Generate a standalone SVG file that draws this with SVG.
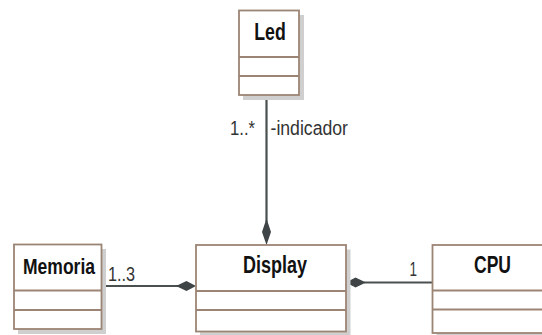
<svg xmlns="http://www.w3.org/2000/svg" width="542" height="335" viewBox="0 0 542 335">
<defs>
<style>
.shadow{fill:#cfcfcf;stroke:none}
.box{fill:#ffffff;stroke:#9c8474;stroke-width:1.8}
.div{stroke:#9c8474;stroke-width:1.8;fill:none}
.title{font-family:"Liberation Sans",Arial,sans-serif;font-weight:bold;font-size:23.5px;fill:#111;text-anchor:middle}
.lbl{font-family:"Liberation Sans",Arial,sans-serif;font-size:20px;fill:#333}
.conn{stroke:#4a4f50;stroke-width:2.2;fill:none}
.dia{fill:#3f4446;stroke:none}
</style>
</defs>
<rect width="542" height="335" fill="#ffffff"/>
<g id="connectors">
<line class="conn" x1="266.5" y1="95" x2="266.5" y2="222"/>
<polygon class="dia" points="266.5,218.5 271,232 266.5,245 262,232"/>
<line class="conn" x1="101.5" y1="286" x2="178" y2="286"/>
<polygon class="dia" points="176,286 186.5,281 196,286 186.5,291"/>
<line class="conn" x1="364" y1="282.5" x2="432" y2="282.5"/>
<polygon class="dia" points="346,282.5 355.5,277.5 366,282.5 355.5,287.5"/>
<text class="lbl" x="230" y="135" textLength="25" lengthAdjust="spacingAndGlyphs">1..*</text>
<text class="lbl" x="270.5" y="135" textLength="77.5" lengthAdjust="spacingAndGlyphs">-indicador</text>
<text class="lbl" x="108" y="281" textLength="27" lengthAdjust="spacingAndGlyphs">1..3</text>
<text class="lbl" x="409.5" y="276" textLength="7.5" lengthAdjust="spacingAndGlyphs">1</text>
</g>
<g id="Led">
<rect class="shadow" x="243" y="15" width="61" height="85"/>
<rect class="box" x="239" y="10.5" width="60" height="84.5"/>
<line class="div" x1="239" y1="57" x2="299" y2="57"/>
<line class="div" x1="239" y1="76" x2="299" y2="76"/>
<text class="title" x="270" y="40" textLength="31.5" lengthAdjust="spacingAndGlyphs">Led</text>
</g>
<g id="Memoria">
<rect class="shadow" x="18" y="249" width="88" height="85"/>
<rect class="box" x="14" y="244.5" width="87.5" height="84.5"/>
<line class="div" x1="14" y1="290.5" x2="101.5" y2="290.5"/>
<line class="div" x1="14" y1="310" x2="101.5" y2="310"/>
<text class="title" x="59" y="274" style="font-size:21.5px" textLength="72" lengthAdjust="spacingAndGlyphs">Memoria</text>
</g>
<g id="Display">
<rect class="shadow" x="200" y="249.5" width="150.5" height="87"/>
<rect class="box" x="196" y="245" width="150" height="86.5"/>
<line class="div" x1="196" y1="291" x2="346" y2="291"/>
<line class="div" x1="196" y1="310" x2="346" y2="310"/>
<text class="title" x="275" y="273" textLength="64" lengthAdjust="spacingAndGlyphs">Display</text>
</g>
<g id="CPU">
<rect class="shadow" x="436.5" y="249.5" width="120" height="88"/>
<rect class="box" x="432.5" y="245" width="120" height="88"/>
<line class="div" x1="432.5" y1="290.5" x2="552" y2="290.5"/>
<line class="div" x1="432.5" y1="309.5" x2="552" y2="309.5"/>
<text class="title" x="492.5" y="272.5" textLength="37" lengthAdjust="spacingAndGlyphs">CPU</text>
</g>
</svg>
